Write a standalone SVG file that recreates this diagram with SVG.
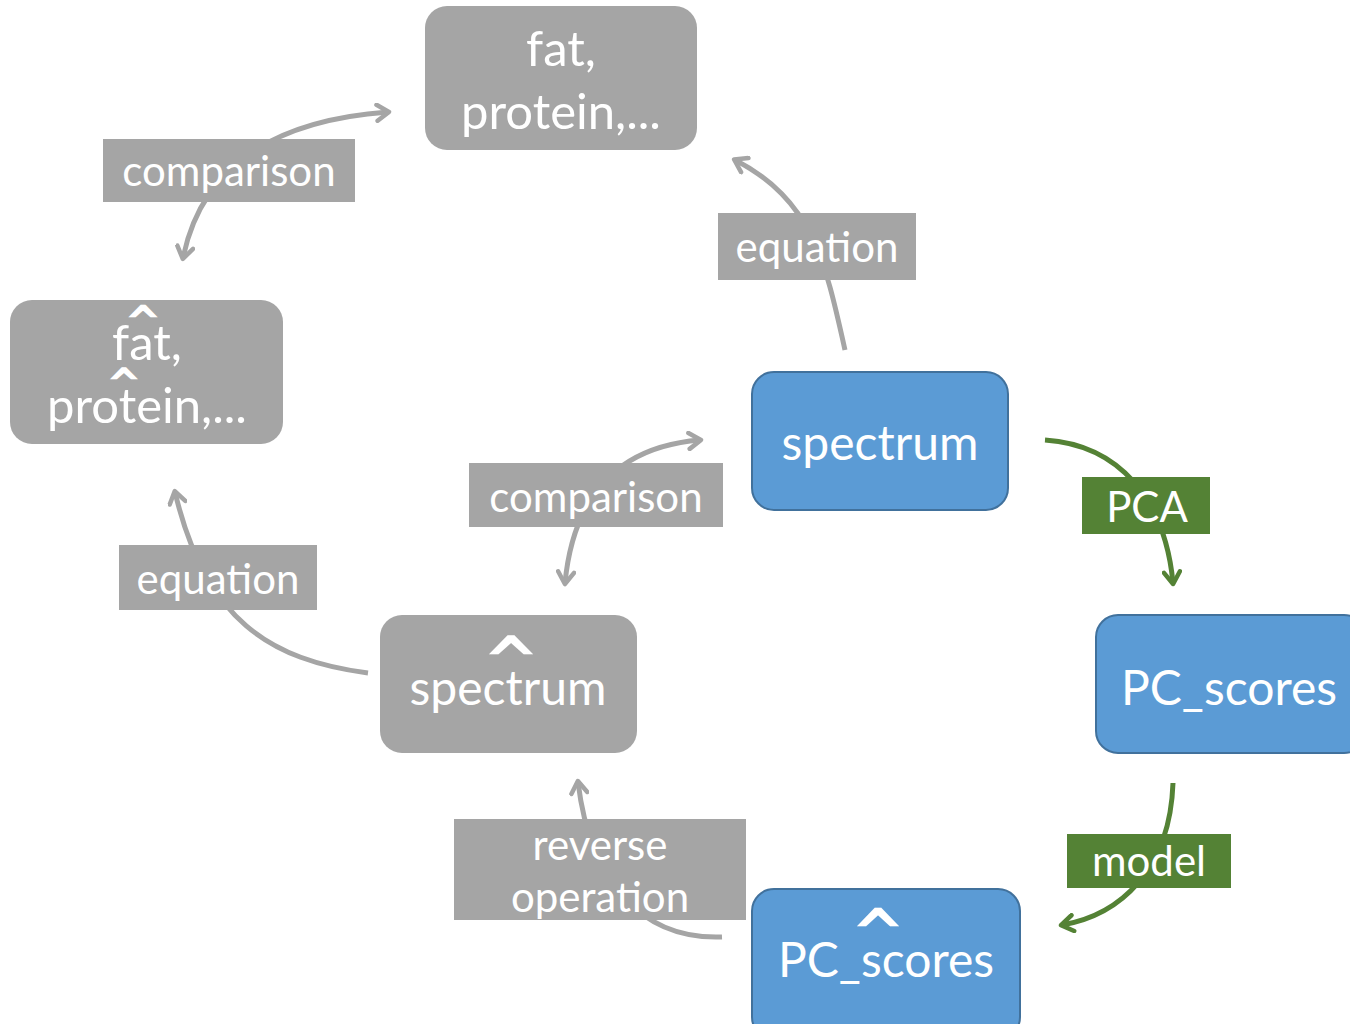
<svg xmlns="http://www.w3.org/2000/svg" width="1350" height="1024" viewBox="0 0 1350 1024">
<defs>
<style>
.gray{fill:#a5a5a5}
.blue{fill:#5b9bd5;stroke:#41719c;stroke-width:2}
.green{fill:#548235}
.t{font-family:Lato,"Open Sans","Liberation Sans",sans-serif;fill:#ffffff;text-anchor:middle}
.big{font-size:48px}
.lbl{font-size:42px}
.hat{font-family:"DejaVu Sans",sans-serif;fill:#ffffff;stroke:#ffffff;stroke-width:2.5;stroke-linejoin:miter;text-anchor:middle}
.cg{fill:none;stroke:#a5a5a5;stroke-width:5}
.cgr{fill:none;stroke:#548235;stroke-width:5}
</style>
<marker id="ag" viewBox="0 0 20 20" refX="14" refY="10" markerWidth="20" markerHeight="20" markerUnits="userSpaceOnUse" orient="auto-start-reverse">
<path d="M3 2 L15 10 L3 18" fill="none" stroke="#a5a5a5" stroke-width="4.5" stroke-linecap="round" stroke-linejoin="round"/>
</marker>
<marker id="agr" viewBox="0 0 20 20" refX="14" refY="10" markerWidth="20" markerHeight="20" markerUnits="userSpaceOnUse" orient="auto-start-reverse">
<path d="M3 2 L15 10 L3 18" fill="none" stroke="#548235" stroke-width="4.5" stroke-linecap="round" stroke-linejoin="round"/>
</marker>
</defs>
<rect width="1350" height="1024" fill="#ffffff"/>
<g id="connectors">
<path class="cg" d="M183 258 Q210 125 388 112" marker-start="url(#ag)" marker-end="url(#ag)"/>
<path class="cg" d="M845 350 C825 260 812 200 735 160" marker-end="url(#ag)"/>
<path class="cg" d="M565 583 Q578 450 700 440" marker-start="url(#ag)" marker-end="url(#ag)"/>
<path class="cg" d="M368 673 C270 660 205 620 175 492" marker-end="url(#ag)"/>
<path class="cg" d="M722 937 C640 940 590 880 578 782" marker-end="url(#ag)"/>
<path class="cgr" d="M1045 440 C1120 445 1165 500 1173 583" marker-end="url(#agr)"/>
<path class="cgr" d="M1173 783 C1170 870 1120 915 1062 925" marker-end="url(#agr)"/>
</g>
<g id="label-comparison-top"><rect class="gray" x="103" y="139" width="252" height="63"/><text class="t lbl" x="229" y="186">comparison</text></g>
<g id="label-equation-top"><rect class="gray" x="718" y="213" width="198" height="67"/><text class="t lbl" x="817" y="262">equation</text></g>
<g id="label-comparison-mid"><rect class="gray" x="469" y="463" width="254" height="64"/><text class="t lbl" x="596" y="512">comparison</text></g>
<g id="label-equation-left"><rect class="gray" x="119" y="545" width="198" height="65"/><text class="t lbl" x="218" y="594">equation</text></g>
<g id="label-reverse"><rect class="gray" x="454" y="819" width="292" height="101"/><text class="t lbl" x="600" y="860">reverse</text><text class="t lbl" x="600" y="912">operation</text></g>
<g id="label-pca"><rect class="green" x="1082" y="477" width="128" height="57"/><text class="t lbl" x="1147" y="522">PCA</text></g>
<g id="label-model"><rect class="green" x="1067" y="834" width="164" height="54"/><text class="t lbl" x="1149" y="876">model</text></g>
<g id="node-fat-protein"><rect class="gray" x="425" y="6" width="272" height="144" rx="22"/><text class="t" font-size="49" x="561" y="66">fat,</text><text class="t" font-size="49" x="561" y="129">protein,...</text></g>
<g id="node-fat-protein-hat"><rect class="gray" x="10" y="300" width="273" height="144" rx="22"/><text class="t" font-size="49" x="147" y="360">fat,</text><text class="t" font-size="49" x="147" y="423">protein,...</text><text class="hat" font-size="37" x="143" y="333">^</text><text class="hat" font-size="35" x="124" y="394">^</text></g>
<g id="node-spectrum"><rect class="blue" x="752" y="372" width="256" height="138" rx="22"/><text class="t big" x="880" y="460">spectrum</text></g>
<g id="node-pc-scores"><rect class="blue" x="1096" y="615" width="270" height="138" rx="22"/><text class="t big" x="1229" y="705">PC_scores</text></g>
<g id="node-pc-scores-hat"><rect class="blue" x="752" y="889" width="268" height="150" rx="22"/><text class="t big" x="886" y="977">PC_scores</text><text class="hat" font-size="58" x="878" y="952">^</text></g>
<g id="node-spectrum-hat"><rect class="gray" x="380" y="615" width="257" height="138" rx="22"/><text class="t big" x="508" y="705">spectrum</text><text class="hat" font-size="61" x="511" y="681">^</text></g>
</svg>
